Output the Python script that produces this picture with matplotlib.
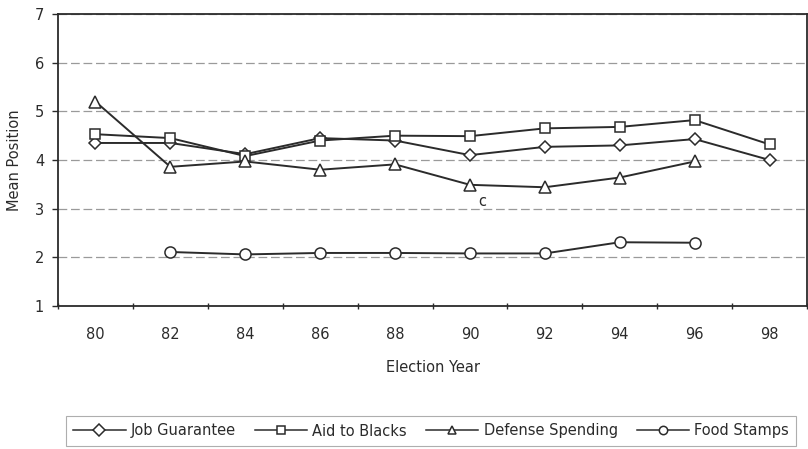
import numpy as np
import matplotlib
matplotlib.use("Agg")
import matplotlib.pyplot as plt
from matplotlib.ticker import FixedLocator, NullFormatter

plt.rcParams['font.family'] = ['DejaVu Sans']

years = ["80", "82", "84", "86", "88", "90", "92", "94", "96", "98"]
job_guarantee = [4.35, 4.35, 4.12, 4.45, 4.40, 4.10, 4.27, 4.30, 4.43, 4.00]
aid_to_blacks = [4.53, 4.45, 4.08, 4.40, 4.50, 4.49, 4.65, 4.68, 4.82, 4.32]
defense_spending = [5.20, 3.86, 3.97, 3.80, 3.91, 3.49, 3.44, 3.64, 3.97, np.nan]
food_stamps = [np.nan, 2.11, 2.06, 2.09, 2.09, 2.08, 2.08, 2.31, 2.30, np.nan]

series = [
    ("Job Guarantee", job_guarantee, "D", 6.5),
    ("Aid to Blacks", aid_to_blacks, "s", 7.5),
    ("Defense Spending", defense_spending, "^", 8.5),
    ("Food Stamps", food_stamps, "o", 8),
]

ink = "#2b2b2b"
fs = 10.5
fig = plt.figure(figsize=(8.08, 4.49), dpi=100)
ax = fig.add_axes([58 / 808, 1 - 306 / 449, 749 / 808, 292 / 449])

x = np.arange(len(years))
for label, vals, marker, ms in series:
    ax.plot(x, vals, color=ink, lw=1.4, marker=marker, ms=ms,
            mfc="white", mec=ink, mew=1.1, label=label)

ax.text(5.16, 3.15, "c", fontsize=fs, color=ink, ha="center", va="center")

ax.set_xlim(-0.5, len(years) - 0.5)
ax.set_ylim(1, 7)
ax.set_yticks(range(1, 8))
ax.yaxis.grid(True, color="#9a9a9a", lw=0.9, ls=(0, (7, 3)))
ax.set_axisbelow(True)

ax.xaxis.set_major_locator(FixedLocator(np.arange(-0.5, len(years), 1.0)))
ax.xaxis.set_major_formatter(NullFormatter())
ax.xaxis.set_minor_locator(FixedLocator(x))
ax.set_xticklabels(years, minor=True)
ax.tick_params(axis="x", which="major", length=4, direction="inout", color=ink, width=1)
ax.tick_params(axis="x", which="minor", length=0, pad=15, labelsize=fs, labelcolor=ink)
ax.tick_params(axis="y", length=4, direction="out", color=ink, width=1, labelsize=fs,
               labelcolor=ink, pad=6)

for side in ["left", "bottom", "top", "right"]:
    ax.spines[side].set_color(ink)
    ax.spines[side].set_linewidth(1.3)

ax.set_xlabel("Election Year", fontsize=fs, color=ink, labelpad=13)
ax.set_ylabel("Mean Position", fontsize=fs, color=ink, labelpad=9)

handles, labels = ax.get_legend_handles_labels()
leg = fig.legend(handles, labels, loc="center", bbox_to_anchor=(431 / 808, 1 - 431 / 449),
                 ncol=4, frameon=True, fancybox=False, edgecolor="#9a9a9a",
                 fontsize=fs, handlelength=3.6, handletextpad=0.35, columnspacing=1.3,
                 borderpad=0.5, labelcolor=ink)
leg.get_frame().set_linewidth(0.8)
for h in leg.legend_handles:
    h.set_markersize(6)
    h.set_linewidth(1.1)

fig.savefig("out.png", dpi=100, facecolor="white")
